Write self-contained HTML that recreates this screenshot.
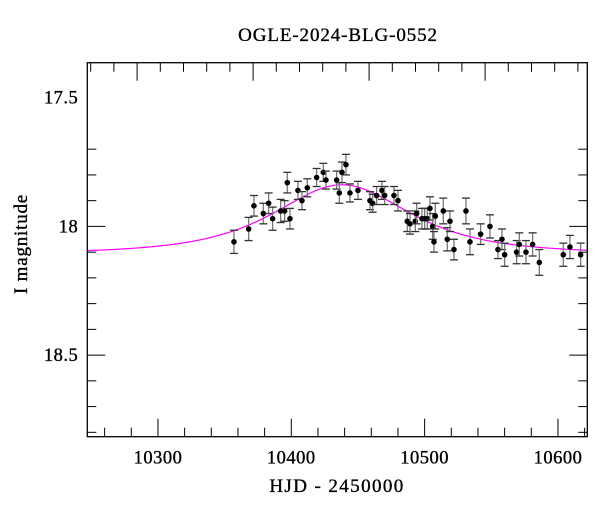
<!DOCTYPE html>
<html><head><meta charset="utf-8"><style>
html,body{margin:0;padding:0;background:#fff;}
svg text{font-family:"Liberation Serif",serif;fill:#000;stroke:#000;stroke-width:0.35;}
</style></head><body>
<svg id="chart" width="600" height="512" viewBox="0 0 600 512" xmlns="http://www.w3.org/2000/svg">
<text x="338" y="41" font-size="19" letter-spacing="0.9" text-anchor="middle">OGLE-2024-BLG-0552</text>
<g id="plot"></g>
<text x="337" y="492" font-size="19" letter-spacing="1.4" text-anchor="middle">HJD - 2450000</text>
<text x="27" y="244" font-size="19" letter-spacing="0.8" text-anchor="middle" transform="rotate(-90 27 244)">I magnitude</text>
</svg>
<script>
const hjd=[10357,10368,10372,10379,10383,10386,10392,10395,10397,10399,10405,10408,10412,10419,10424,10426,10434,10436,10438,10441,10444,10450,10459,10461,10464,10468,10470,10477,10480,10487,10489,10493,10494,10498,10500,10502,10504,10506,10507,10508,10514,10517,10519,10522,10531,10534,10542,10549,10555,10558,10560,10569,10571,10576,10581,10586,10604,10609,10617];
const mag=[18.06,18.01,17.92,17.95,17.91,17.97,17.94,17.94,17.83,17.97,17.86,17.90,17.85,17.81,17.79,17.82,17.82,17.87,17.79,17.76,17.87,17.86,17.90,17.91,17.88,17.86,17.88,17.88,17.90,17.98,17.99,17.98,17.95,17.97,17.97,17.97,17.93,18.00,18.06,17.96,17.94,18.05,17.98,18.09,17.94,18.06,18.03,18.00,18.09,18.05,18.11,18.10,18.07,18.10,18.07,18.14,18.11,18.08,18.11];
const err=[0.045,0.045,0.04,0.04,0.04,0.045,0.045,0.04,0.04,0.04,0.035,0.035,0.035,0.035,0.035,0.035,0.035,0.04,0.04,0.04,0.035,0.035,0.035,0.035,0.035,0.035,0.035,0.035,0.04,0.04,0.04,0.04,0.04,0.04,0.04,0.04,0.045,0.05,0.04,0.05,0.05,0.045,0.04,0.04,0.05,0.05,0.04,0.045,0.035,0.04,0.045,0.045,0.045,0.045,0.045,0.05,0.045,0.045,0.045];
const xTicks=[10300,10400,10500,10600];
const yTicks=[17.5,18,18.5];
const model={t0:10438,tE:58,u0:1.1,base:18.105};
const L=87.3,R=587.3,T=62.7,B=436.7;
const xMin=10247,xMax=10622,yMin=17.364,yMax=18.817;
const sx=v=>L+(v-xMin)/(xMax-xMin)*(R-L);
const sy=v=>T+(v-yMin)/(yMax-yMin)*(B-T);
const NS="http://www.w3.org/2000/svg";
const g=document.getElementById('plot');
function mk(t,a,p){const e=document.createElementNS(NS,t);for(const k in a)e.setAttribute(k,a[k]);(p||g).appendChild(e);return e;}
for(let v=10260;v<=10620;v+=20){const x=sx(v);const maj=v%100===0;
 const t=mk('line',{x1:x,x2:x,y1:B,y2:B-(maj?18:9),stroke:'#000','stroke-width':1});
 }
for(let x=90.7;x<R;x+=23.2){const k=Math.round((x-137.7)/23.2);const maj=k%5===0;
 const t=mk('line',{x1:x,x2:x,y1:T,y2:T+(maj?18:9),stroke:'#000','stroke-width':1});
 }
for(let i=4;i<=18;i++){const v=17.3+i*0.1;const y=sy(v);if(y<T||y>B)continue;const maj=i%5===2;
 const a=mk('line',{x1:L,x2:L+(maj?18:9),y1:y,y2:y,stroke:'#000','stroke-width':1});
 
 const b=mk('line',{x1:R,x2:R-(maj?18:9),y1:y,y2:y,stroke:'#000','stroke-width':1});
 }
xTicks.forEach(v=>{const t=mk('text',{x:sx(v),y:B+27,'font-size':18.5,'letter-spacing':0.5,'text-anchor':'middle'});t.textContent=v;
 });
yTicks.forEach(v=>{const t=mk('text',{x:L-9,y:sy(v)+6,'font-size':18.5,'letter-spacing':0.5,'text-anchor':'end'});t.textContent=v;
 });
function A(u){return (u*u+2)/(u*Math.sqrt(u*u+4));}
let d='';
for(let t=xMin;t<=xMax;t+=1){const tau=(t-model.t0)/model.tE;const u=Math.sqrt(model.u0*model.u0+tau*tau);
 const m=model.base-2.5*Math.log10(A(u));d+=(d?'L':'M')+sx(t).toFixed(2)+' '+sy(m).toFixed(2);}
const c=mk('path',{d:d,fill:'none',stroke:'#ff00ff','stroke-width':1.2});

hjd.forEach((t,i)=>{const x=sx(t),y=sy(mag[i]),y1=sy(mag[i]-err[i]),y2=sy(mag[i]+err[i]);
 const grp=mk('g',{});
 
 
 mk('line',{x1:x,x2:x,y1:y1,y2:y2,stroke:'#777','stroke-width':1.3},grp);
 mk('line',{x1:x-4,x2:x+4,y1:y1,y2:y1,stroke:'#333','stroke-width':1.3},grp);
 mk('line',{x1:x-4,x2:x+4,y1:y2,y2:y2,stroke:'#333','stroke-width':1.3},grp);
 mk('circle',{cx:x,cy:y,r:2.8,fill:'#000'},grp);});
const f=mk('rect',{x:L,y:T,width:R-L,height:B-T,fill:'none',stroke:'#000','stroke-width':1.3});

</script>
</body></html>
